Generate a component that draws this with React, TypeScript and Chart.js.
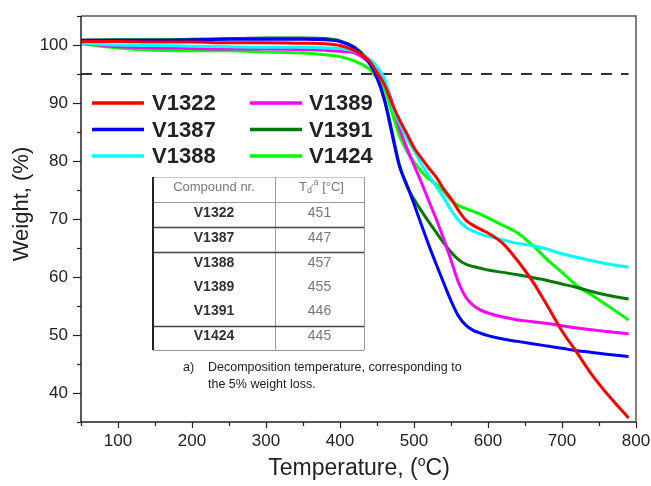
import React, { useEffect, useRef } from 'react';
import { Chart, registerables } from 'chart.js';

Chart.register(...registerables);

// ---------- data ----------
const TEMPS = [50, 100, 150, 200, 250, 300, 350, 380, 400, 420, 440,
  450, 460, 470, 480, 490, 500, 510, 520, 530, 540, 550, 560, 570, 580, 590, 600,
  620, 640, 660, 680, 700, 720, 740, 760, 790];

const V1322 = [100.6, 100.6, 100.5, 100.5, 100.4, 100.4, 100.3, 100.2, 99.9, 99.0, 97.2,
  95.2, 93.2, 90.0, 87.2, 84.8, 82.3, 80.5, 78.8, 77.2, 75.2, 73.5, 71.5, 69.8, 68.9, 68.2, 67.6,
  65.8, 62.8, 59.3, 55.1, 50.7, 47.0, 43.2, 40.0, 35.7];
const V1387 = [100.8, 100.8, 100.8, 100.9, 101.0, 101.0, 101.0, 100.9, 100.6, 99.4, 96.8,
  94.3, 90.5, 84.8, 79.2, 76.0, 72.6, 69.0, 65.5, 62.2, 59.0, 55.9, 53.3, 51.7, 50.8, 50.3, 49.9,
  49.3, 48.9, 48.5, 48.1, 47.7, 47.3, 47.0, 46.7, 46.3];
const V1388 = [100.3, 100.0, 99.9, 99.8, 99.7, 99.6, 99.6, 99.5, 99.4, 98.9, 97.5,
  96.2, 94.2, 89.8, 86.6, 84.0, 81.8, 79.5, 77.5, 75.6, 73.7, 71.5, 69.8, 68.6, 67.9, 67.4, 67.0,
  66.4, 65.8, 65.4, 64.8, 64.0, 63.4, 62.8, 62.3, 61.7];
const V1389 = [100.3, 99.7, 99.5, 99.4, 99.3, 99.3, 99.2, 99.1, 98.9, 98.6, 97.0,
  96.0, 93.8, 90.3, 85.8, 82.3, 79.3, 76.3, 73.1, 70.0, 66.6, 62.9, 59.1, 56.5, 55.1, 54.3, 53.8,
  53.1, 52.6, 52.3, 52.0, 51.6, 51.2, 50.9, 50.6, 50.2];
const V1391 = [100.8, 100.9, 100.9, 101.0, 101.1, 101.2, 101.2, 101.1, 100.7, 99.6, 97.0,
  94.5, 90.8, 85.3, 79.5, 75.8, 73.4, 71.4, 69.5, 67.7, 65.9, 64.3, 63.0, 62.2, 61.8, 61.5, 61.2,
  60.8, 60.4, 59.9, 59.4, 58.8, 58.2, 57.5, 56.9, 56.2];
const V1424 = [100.2, 99.5, 99.1, 99.0, 99.0, 98.8, 98.6, 98.3, 98.0, 97.2, 95.8,
  94.3, 92.5, 88.5, 84.5, 81.8, 79.8, 78.2, 76.9, 76.0, 74.8, 73.3, 72.3, 71.8, 71.3, 70.8, 70.2,
  68.9, 67.6, 65.5, 63.0, 60.8, 58.5, 56.9, 55.2, 52.6];

const SERIES_NAMES = ['V1322', 'V1387', 'V1388', 'V1389', 'V1391', 'V1424'];
const SERIES_VALUES = [V1322, V1387, V1388, V1389, V1391, V1424];
const SERIES_COLORS = ['#ff0000', '#0000ff', '#00ffff', '#ff00ff', '#007a00', '#00ff00'];

const LEGEND_COL1 = ['V1322', 'V1387', 'V1388'];
const LEGEND_COL2 = ['V1389', 'V1391', 'V1424'];

const TABLE_COMPOUNDS = ['V1322', 'V1387', 'V1388', 'V1389', 'V1391', 'V1424'];
const TABLE_TD = ['451', '447', '457', '455', '446', '445'];

const THRESHOLD = 95;
const THRESHOLD_RANGE = [50, 790];

const X_MIN = 50, X_MAX = 800, X_STEP = 50;
const Y_MIN = 35, Y_MAX = 105, Y_STEP = 5;

const X_TITLE = 'Temperature, (';
const X_TITLE_SUP = 'o';
const X_TITLE_END = 'C)';
const Y_TITLE = 'Weight, (%)';
const NOTE_MARK = 'a)';
const NOTE_LINES = ['Decomposition temperature, corresponding to', 'the 5% weight loss.'];

const FONT = 'Arial, "Liberation Sans", Helvetica, sans-serif';

const decorPlugin = {
  id: 'decor',
  afterDraw(chart: any) {
    const ctx = chart.ctx as CanvasRenderingContext2D;
    const area = chart.chartArea;
    const xs = chart.scales.x;
    const ys = chart.scales.y;
    ctx.save();

    // frame
    ctx.lineWidth = 1.5;
    ctx.strokeStyle = '#555';
    ctx.beginPath();
    ctx.moveTo(area.left, area.top);
    ctx.lineTo(area.right, area.top);
    ctx.lineTo(area.right, area.bottom);
    ctx.stroke();
    ctx.strokeStyle = '#222';
    ctx.beginPath();
    ctx.moveTo(area.left, area.top);
    ctx.lineTo(area.left, area.bottom);
    ctx.lineTo(area.right, area.bottom);
    ctx.stroke();

    // ticks
    ctx.lineWidth = 1.2;
    ctx.strokeStyle = '#222';
    xs.ticks.forEach((t: any) => {
      const px = Math.round(xs.getPixelForValue(t.value)) + 0.5;
      const major = t.value % 100 === 0;
      ctx.beginPath();
      ctx.moveTo(px, area.bottom);
      ctx.lineTo(px, area.bottom + (major ? 6 : 4));
      ctx.stroke();
    });
    ys.ticks.forEach((t: any) => {
      const py = Math.round(ys.getPixelForValue(t.value)) + 0.5;
      const major = t.value % 10 === 0;
      ctx.beginPath();
      ctx.moveTo(area.left, py);
      ctx.lineTo(area.left - (major ? 8 : 4), py);
      ctx.stroke();
    });

    // axis titles
    ctx.fillStyle = '#222';
    ctx.textBaseline = 'middle';
    ctx.textAlign = 'center';
    ctx.font = `22px ${FONT}`;
    ctx.save();
    ctx.translate(22, 204);
    ctx.rotate(-Math.PI / 2);
    ctx.fillText(Y_TITLE, 0, 0);
    ctx.restore();

    ctx.textAlign = 'left';
    ctx.font = `23px ${FONT}`;
    const w1 = ctx.measureText(X_TITLE).width;
    const w3 = ctx.measureText(X_TITLE_END).width;
    ctx.font = `14px ${FONT}`;
    const w2 = ctx.measureText(X_TITLE_SUP).width;
    let tx = 359 - (w1 + w2 + w3) / 2;
    const ty = 469;
    ctx.font = `23px ${FONT}`;
    ctx.fillText(X_TITLE, tx, ty);
    tx += w1;
    ctx.font = `14px ${FONT}`;
    ctx.fillText(X_TITLE_SUP, tx, ty - 7);
    tx += w2;
    ctx.font = `23px ${FONT}`;
    ctx.fillText(X_TITLE_END, tx, ty);

    // legend
    const drawLegendCol = (names: string[], lx: number, txX: number) => {
      names.forEach((name, i) => {
        const idx = SERIES_NAMES.indexOf(name);
        const y = 103 + i * 26.5;
        ctx.strokeStyle = SERIES_COLORS[idx];
        ctx.lineWidth = 3.5;
        ctx.beginPath();
        ctx.moveTo(lx, y);
        ctx.lineTo(lx + 52, y);
        ctx.stroke();
        ctx.fillStyle = '#222';
        ctx.font = `bold 22px ${FONT}`;
        ctx.textAlign = 'left';
        ctx.textBaseline = 'middle';
        ctx.fillText(name, txX, y + 1);
      });
    };
    drawLegendCol(LEGEND_COL1, 92, 152);
    drawLegendCol(LEGEND_COL2, 250, 309);

    // table
    const tL = 153, tM = 275, tR = 364, tTop = 177, tBot = 350;
    ctx.fillStyle = '#fff';
    ctx.fillRect(tL, tTop, tR - tL, tBot - tTop);
    ctx.lineWidth = 1;
    ctx.strokeStyle = '#c8c8c8';
    ctx.beginPath();
    ctx.moveTo(tL, tTop + 0.5); ctx.lineTo(tR, tTop + 0.5);
    ctx.stroke();
    ctx.strokeStyle = '#999';
    ctx.beginPath();
    ctx.moveTo(tR + 0.5, tTop); ctx.lineTo(tR + 0.5, tBot);
    ctx.moveTo(tM + 0.5, tTop); ctx.lineTo(tM + 0.5, tBot);
    ctx.moveTo(tL, 202.5); ctx.lineTo(tR, 202.5);
    ctx.moveTo(tL, tBot + 0.5); ctx.lineTo(tR, tBot + 0.5);
    ctx.stroke();
    ctx.strokeStyle = '#444';
    ctx.lineWidth = 1.4;
    ctx.beginPath();
    [227, 252, 326].forEach((y) => { ctx.moveTo(tL, y + 0.5); ctx.lineTo(tR, y + 0.5); });
    ctx.stroke();
    ctx.lineWidth = 2;
    ctx.strokeStyle = '#222';
    ctx.beginPath();
    ctx.moveTo(tL, tTop); ctx.lineTo(tL, tBot);
    ctx.stroke();

    ctx.textAlign = 'center';
    ctx.textBaseline = 'middle';
    ctx.fillStyle = '#777';
    ctx.font = `13px ${FONT}`;
    ctx.fillText('Compound nr.', (tL + tM) / 2, 187);
    // header: T d,a [°C]
    const hx = (tM + tR) / 2;
    ctx.textAlign = 'left';
    const pT = 'T', pSub = 'd', pSup = ',a', pEnd = ' [°C]';
    ctx.font = `13px ${FONT}`;
    const a1 = ctx.measureText(pT).width, a4 = ctx.measureText(pEnd).width;
    ctx.font = `9px ${FONT}`;
    const a2 = ctx.measureText(pSub).width, a3 = ctx.measureText(pSup).width;
    let hx0 = hx - (a1 + Math.max(a2, a3) + a4) / 2;
    ctx.font = `13px ${FONT}`;
    ctx.fillText(pT, hx0, 187);
    hx0 += a1;
    ctx.font = `9px ${FONT}`;
    ctx.fillText(pSub, hx0, 191);
    ctx.fillText(pSup, hx0 + a2 - 1, 183);
    hx0 += Math.max(a2 + a3 - 1, a2);
    ctx.font = `13px ${FONT}`;
    ctx.fillText(pEnd, hx0, 187);

    const rowY = [213, 238, 263, 287, 311, 336];
    ctx.textAlign = 'center';
    TABLE_COMPOUNDS.forEach((c, i) => {
      ctx.fillStyle = '#333';
      ctx.font = `bold 14px ${FONT}`;
      ctx.fillText(c, (tL + tM) / 2, rowY[i]);
      ctx.fillStyle = '#777';
      ctx.font = `14px ${FONT}`;
      ctx.fillText(TABLE_TD[i], (tM + tR) / 2, rowY[i]);
    });

    // note
    ctx.fillStyle = '#222';
    ctx.textAlign = 'left';
    ctx.font = `12.5px ${FONT}`;
    ctx.fillText(NOTE_MARK, 183, 368);
    NOTE_LINES.forEach((line, i) => ctx.fillText(line, 208, 368 + i * 16.5));

    ctx.restore();
  },
};

export default function App() {
  const ref = useRef<HTMLCanvasElement | null>(null);

  useEffect(() => {
    if (!ref.current) return;
    const datasets: any[] = SERIES_NAMES.map((name, i) => ({
      label: name,
      data: TEMPS.map((t, j) => ({ x: t, y: SERIES_VALUES[i][j] })),
      borderColor: SERIES_COLORS[i],
      backgroundColor: SERIES_COLORS[i],
      borderWidth: 3,
      pointRadius: 0,
      cubicInterpolationMode: 'monotone',
      fill: false,
    }));
    datasets.push({
      label: 'threshold',
      data: THRESHOLD_RANGE.map((t) => ({ x: t, y: THRESHOLD })),
      borderColor: '#333',
      borderWidth: 2,
      borderDash: [11, 9],
      pointRadius: 0,
      fill: false,
    });

    const chart = new Chart(ref.current, {
      type: 'line',
      data: { datasets },
      options: {
        responsive: false,
        animation: false,
        layout: { padding: { left: 0, right: 15, top: 16, bottom: 0 } },
        plugins: { legend: { display: false }, tooltip: { enabled: false } },
        scales: {
          x: {
            type: 'linear',
            min: X_MIN,
            max: X_MAX,
            grid: { display: false, drawTicks: false },
            border: { display: false },
            ticks: {
              stepSize: X_STEP,
              autoSkip: false,
              maxRotation: 0,
              padding: 9,
              color: '#222',
              font: { family: FONT, size: 17 },
              callback: (v: any) => (Number(v) % 100 === 0 ? String(v) : ''),
            },
            afterFit: (s: any) => { s.height = 64; s.paddingLeft = 0; s.paddingRight = 0; },
          },
          y: {
            type: 'linear',
            min: Y_MIN,
            max: Y_MAX,
            grid: { display: false, drawTicks: false },
            border: { display: false },
            ticks: {
              stepSize: Y_STEP,
              autoSkip: false,
              padding: 13,
              color: '#222',
              font: { family: FONT, size: 17 },
              callback: (v: any) => (Number(v) % 10 === 0 && Number(v) !== 110 ? String(v) : ''),
            },
            afterFit: (s: any) => { s.width = 81; s.paddingTop = 0; s.paddingBottom = 0; },
          },
        },
      },
      plugins: [decorPlugin],
    });
    return () => chart.destroy();
  }, []);

  return (
    <div style={{ position: 'absolute', left: 0, top: 0, width: 651, height: 486, background: '#fff' }}>
      <canvas ref={ref} width={651} height={486} />
    </div>
  );
}
